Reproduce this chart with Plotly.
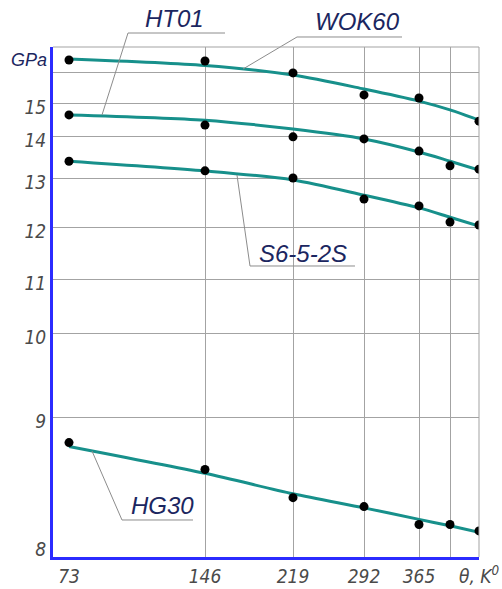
import numpy as np
import plotly.graph_objects as go

# ---------------- data ----------------
temps = [73, 146, 219, 292, 365, 438, 511]          # K
x_tick_temps = [73, 146, 219, 292, 365, 511]
x_tick_text = ["73", "146", "219", "292", "365", "θ, K<sup>0</sup>"]
y_tick_vals = [8, 9, 10, 11, 12, 13, 14, 15]
y_tick_text = ["8", "9", "10", "11", "12", "13", "14", "15"]

wok60_T = [73, 146, 219, 292, 365, 511]
wok60_pts = [16.48, 16.44, 15.97, 15.26, 15.16, 14.45]
wok60_fit = [16.52, 16.26, 15.90, 15.45, 15.06, 14.79, 14.48]

ht01_pts = [14.64, 14.33, 13.98, 13.93, 13.64, 13.29, 13.21]
ht01_fit = [14.64, 14.48, 14.21, 13.93, 13.62, 13.40, 13.19]

s6_pts = [13.40, 13.17, 13.00, 12.57, 12.43, 12.10, 12.04]
s6_fit = [13.40, 13.17, 12.96, 12.65, 12.39, 12.20, 12.02]

hg30_pts = [8.80, 8.59, 8.37, 8.30, 8.16, 8.16, 8.11]
hg30_fit = [8.77, 8.56, 8.40, 8.29, 8.20, 8.15, 8.10]

# ------------- hand-drawn non-uniform scales (value -> drawing position) -------------
X_KNOT_VAL = [73, 146, 219, 292, 365, 438, 511]
X_KNOT_POS = [69, 205, 293, 364, 419, 450, 479]
Y_KNOT_VAL = [8, 9, 10, 11, 12, 13, 14, 15, 16, 17]
Y_KNOT_POS = [545, 417, 333, 279, 227, 178, 136, 103, 72, 47]
Y_GRID_VAL = [9, 10, 11, 12, 13, 14, 15, 16, 17]


def xs(v):
    return np.interp(v, X_KNOT_VAL, X_KNOT_POS)


def ys(v):
    return np.interp(v, Y_KNOT_VAL, Y_KNOT_POS)


W, H = 502, 589
L, R, T, B = 53, 479, 47, 557


def px(x):  # drawing position -> paper
    return (x - L) / (R - L)


def py(y):
    return (B - y) / (B - T)


TEAL = "#17908b"
NAVY = "#1b2660"
GRID = "#a3a3a3"
BLUE = "#2b2bff"

fig = go.Figure()

curves = [
    (temps, wok60_fit, wok60_T, wok60_pts, "WOK60"),
    (temps, ht01_fit, temps, ht01_pts, "HT01"),
    (temps, s6_fit, temps, s6_pts, "S6-5-2S"),
    (temps, hg30_fit, temps, hg30_pts, "HG30"),
]
for tf, fit, tp, pts, name in curves:
    fig.add_trace(go.Scatter(x=xs(tf), y=ys(fit), mode="lines", name=name,
                             line=dict(color=TEAL, width=3, shape="spline", smoothing=0.8),
                             showlegend=False, hoverinfo="skip"))
for tf, fit, tp, pts, name in curves:
    fig.add_trace(go.Scatter(x=xs(tp), y=ys(pts), mode="markers", name=name + " data",
                             marker=dict(color="black", size=9),
                             showlegend=False))

# leader lines for the curve labels
leaders = [
    [(225, 33), (128, 33), (102, 115)],
    [(402, 37), (297, 37), (243, 69)],
    [(355, 266), (250, 266), (237, 175)],
    [(193, 520), (122, 520), (92, 451)],
]
shapes = []
for pts in leaders:
    path = "M " + " L ".join(f"{px(a):.5f},{py(b):.5f}" for a, b in pts)
    shapes.append(dict(type="path", xref="paper", yref="paper", path=path,
                       line=dict(color="#8c8c8c", width=1)))
# top and right frame lines (grey)
shapes.append(dict(type="line", xref="paper", yref="paper", x0=0, x1=1, y0=1, y1=1,
                   line=dict(color=GRID, width=1)))
shapes.append(dict(type="line", xref="paper", yref="paper", x0=1, x1=1, y0=0, y1=1,
                   line=dict(color=GRID, width=1)))

label_font = dict(family="Liberation Sans, Arial, sans-serif", size=24, color=NAVY, style="italic")
labels = [("HT01", 174, 19), ("WOK60", 357, 22), ("S6-5-2S", 303, 253), ("HG30", 162, 505)]
annotations = [dict(text=t, x=px(a), y=py(b), xref="paper", yref="paper", showarrow=False,
                    xanchor="center", yanchor="middle", font=label_font) for t, a, b in labels]
annotations.append(dict(text="GPa", x=px(49), y=py(60), xref="paper", yref="paper", showarrow=False,
                        xanchor="right", yanchor="middle",
                        font=dict(family="Liberation Sans, Arial, sans-serif", size=18, color=NAVY,
                                  style="italic")))

tick_font = dict(family="DejaVu Sans Condensed, Liberation Sans Narrow, sans-serif", size=19,
                 color="#4a4a4a", style="italic")

fig.update_layout(
    width=W, height=H,
    margin=dict(l=L, r=W - R, t=T, b=H - B, pad=0, autoexpand=False),
    paper_bgcolor="white", plot_bgcolor="white",
    shapes=shapes, annotations=annotations,
    xaxis=dict(range=[L, R], tickmode="array", tickvals=xs(x_tick_temps), ticktext=x_tick_text,
               showgrid=False, zeroline=False, showline=True, linecolor=BLUE, linewidth=3,
               ticks="", tickfont=tick_font, automargin=False,
               minor=dict(tickmode="array", tickvals=list(xs(temps[1:])), showgrid=True,
                          gridcolor=GRID, gridwidth=1, ticks="")),
    yaxis=dict(range=[B, T], tickmode="array", tickvals=ys(y_tick_vals), ticktext=y_tick_text,
               showgrid=False, zeroline=False, showline=True, linecolor=BLUE, linewidth=3,
               ticks="", tickfont=tick_font, ticklabelshift=-4, automargin=False,
               minor=dict(tickmode="array", tickvals=list(ys(Y_GRID_VAL)), showgrid=True,
                          gridcolor=GRID, gridwidth=1, ticks="")),
)

fig.write_html("out.html")
